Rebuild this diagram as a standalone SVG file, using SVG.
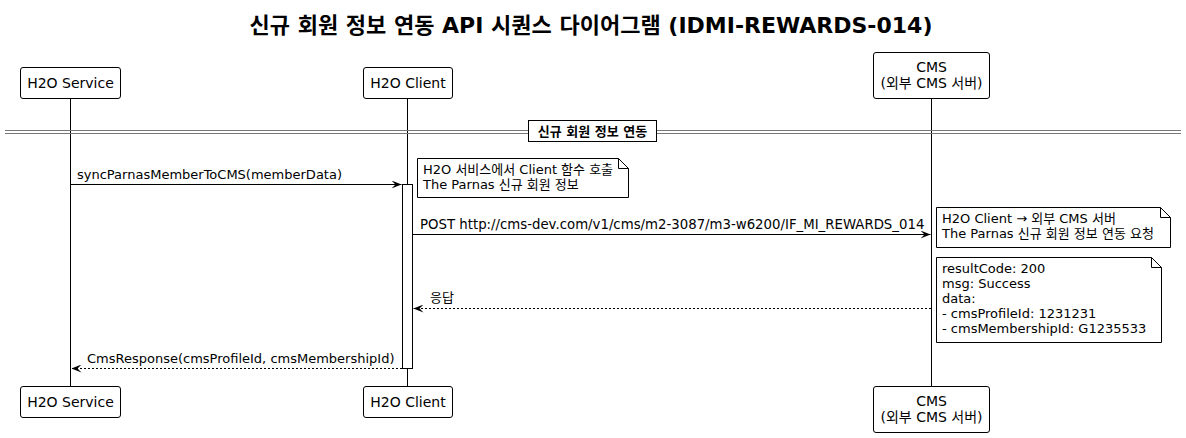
<svg xmlns="http://www.w3.org/2000/svg" width="1186" height="438" viewBox="0 0 1186 438">
<style>
text{font-family:"DejaVu Sans","Noto Sans CJK KR",sans-serif;fill:#000}
.title{font-size:22px;font-weight:bold}
.part{font-size:14px}
.msg{font-size:13px}
.note{font-size:13px}
.box{fill:#fff;stroke:#000;stroke-width:1}
.life{stroke:#000;stroke-width:1}
.ln{stroke:#000;stroke-width:1;fill:none}
.dash{stroke-dasharray:2,2}
.sep{stroke:#777;stroke-width:1}
</style>
<defs>
<marker id="ah" viewBox="0 0 10 8" refX="10" refY="4" markerWidth="10" markerHeight="8" markerUnits="userSpaceOnUse" orient="auto">
<path d="M0,0 L10,4 L0,8 L4,4 Z" fill="#000"/>
</marker>
</defs>
<rect width="1186" height="438" fill="#fff"/>
<text class="title" x="591" y="33" text-anchor="middle">신규 회원 정보 연동 API 시퀀스 다이어그램 (IDMI-REWARDS-014)</text>

<g id="lifelines">
<line class="life" x1="70.5" y1="98" x2="70.5" y2="386"/>
<line class="life" x1="407.5" y1="98" x2="407.5" y2="386"/>
<line class="life" x1="931.5" y1="98" x2="931.5" y2="386"/>
</g>

<g id="separator">
<line class="sep" x1="5" y1="130.5" x2="1181" y2="130.5"/>
<line class="sep" x1="5" y1="133.5" x2="1181" y2="133.5"/>
<rect class="box" x="528.5" y="120.5" width="128" height="21"/>
<text class="msg" x="592.5" y="136" text-anchor="middle" font-weight="bold">신규 회원 정보 연동</text>
</g>

<g id="h2o-service">
<rect class="box" x="20.5" y="67.5" width="100" height="31" rx="2.5"/>
<text class="part" x="70.5" y="88" text-anchor="middle">H2O Service</text>
<rect class="box" x="20.5" y="386.5" width="100" height="31" rx="2.5"/>
<text class="part" x="70.5" y="407" text-anchor="middle">H2O Service</text>
</g>

<g id="h2o-client">
<rect class="box" x="363.5" y="67.5" width="89" height="31" rx="2.5"/>
<text class="part" x="408" y="88" text-anchor="middle">H2O Client</text>
<rect class="box" x="363.5" y="386.5" width="89" height="31" rx="2.5"/>
<text class="part" x="408" y="407" text-anchor="middle">H2O Client</text>
<rect id="activation" class="box" x="402.5" y="184.5" width="10" height="184"/>
</g>

<g id="cms">
<rect class="box" x="873.5" y="52.5" width="116" height="46" rx="2.5"/>
<text class="part" x="931.5" y="71.5" text-anchor="middle">CMS</text>
<text class="part" x="931.5" y="87.5" text-anchor="middle">(외부 CMS 서버)</text>
<rect class="box" x="873.5" y="386.5" width="116" height="46" rx="2.5"/>
<text class="part" x="931.5" y="405.5" text-anchor="middle">CMS</text>
<text class="part" x="931.5" y="421.5" text-anchor="middle">(외부 CMS 서버)</text>
</g>

<g id="connectors">
<line class="ln" x1="70.5" y1="184.5" x2="401.5" y2="184.5" marker-end="url(#ah)"/>
<text class="msg" x="77" y="179">syncParnasMemberToCMS(memberData)</text>
<line class="ln" x1="412.5" y1="234.5" x2="930.5" y2="234.5" marker-end="url(#ah)"/>
<text class="msg" x="420" y="229" style="font-size:13.3px">POST http://cms-dev.com/v1/cms/m2-3087/m3-w6200/IF_MI_REWARDS_014</text>
<line class="ln dash" x1="931" y1="308.5" x2="413.5" y2="308.5" marker-end="url(#ah)"/>
<text class="msg" x="430" y="302">응답</text>
<line class="ln dash" x1="402" y1="368.5" x2="71.5" y2="368.5" marker-end="url(#ah)"/>
<text class="msg" x="87" y="363">CmsResponse(cmsProfileId, cmsMembershipId)</text>
</g>

<g id="note1">
<path class="box" d="M417.5,158.5 H618.5 L628.5,168.5 V197.5 H417.5 Z"/>
<path class="ln" d="M618.5,158.5 V168.5 H628.5"/>
<text class="note" x="423" y="174">H2O 서비스에서 Client 함수 호출</text>
<text class="note" x="423" y="189">The Parnas 신규 회원 정보</text>
</g>

<g id="note2">
<path class="box" d="M936.5,207.5 H1160.5 L1170.5,217.5 V247.5 H936.5 Z"/>
<path class="ln" d="M1160.5,207.5 V217.5 H1170.5"/>
<text class="note" x="942" y="223">H2O Client → 외부 CMS 서버</text>
<text class="note" x="942" y="238">The Parnas 신규 회원 정보 연동 요청</text>
</g>

<g id="note3">
<path class="box" d="M936.5,257.5 H1151.5 L1161.5,267.5 V342.5 H936.5 Z"/>
<path class="ln" d="M1151.5,257.5 V267.5 H1161.5"/>
<text class="note" x="942" y="273">resultCode: 200</text>
<text class="note" x="942" y="288">msg: Success</text>
<text class="note" x="942" y="303">data:</text>
<text class="note" x="942" y="318">- cmsProfileId: 1231231</text>
<text class="note" x="942" y="333">- cmsMembershipId: G1235533</text>
</g>
</svg>
